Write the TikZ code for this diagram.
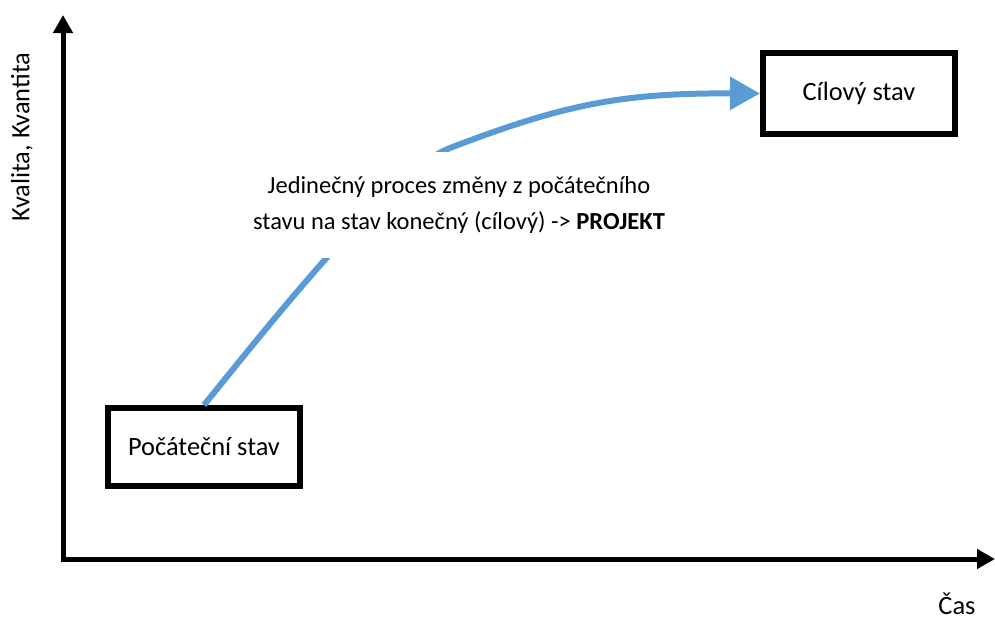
\documentclass[tikz,border=0pt]{standalone}
\usepackage{fontspec}
\setmainfont{Carlito}
\usetikzlibrary{arrows.meta}
\definecolor{flowblue}{HTML}{5B9BD5}
\begin{document}
\begin{tikzpicture}[x=1pt,y=-1pt,
  statebox/.style={draw=black, line width=6pt, fill=white, minimum width=192pt,
    inner sep=0pt, font=\fontsize{26.4}{30}\selectfont},
  axis/.style={line width=5pt, line join=miter,
    {Triangle[length=18pt,width=19pt]}-{Triangle[length=18pt,width=19pt]}},
  flow/.style={draw=flowblue, line width=6pt,
    -{Triangle[length=30pt,width=32pt]}},
  label/.style={font=\fontsize{26.4}{30}\selectfont, inner sep=0pt}]
  \useasboundingbox (0,0) rectangle (995,619);

  % axes
  \coordinate (o) at (63,559);
  \coordinate (ytop) at (63,15);
  \coordinate (xend) at (995,559);
  \draw[axis] (ytop) -- (o) -- (xend);
  \node[label, rotate=90] (ylab) at (22,137) {Kvalita, Kvantita};
  \node[label, anchor=base] (xlab) at (957,614) {Čas};

  % start and target states
  \node[statebox, minimum height=78pt] (start) at (204,447) {Počáteční stav};
  \node[statebox, minimum height=81pt] (goal) at (859,93.5) {Cílový stav};

  % change process
  \coordinate (bend) at (450,148);
  \draw[flow] (start.north) .. controls (265,330) and (390,171) .. (bend)
    .. controls (567,103) and (625,93) .. (goal.west);
  \node[fill=white, minimum height=106pt, minimum width=440pt, align=center,
    inner sep=0pt, font=\fontsize{24.5}{36}\selectfont] (proc) at (459,205)
    {Jedinečný proces změny z počátečního\\
     stavu na stav konečný (cílový) -> \textbf{PROJEKT}};
\end{tikzpicture}
\end{document}
